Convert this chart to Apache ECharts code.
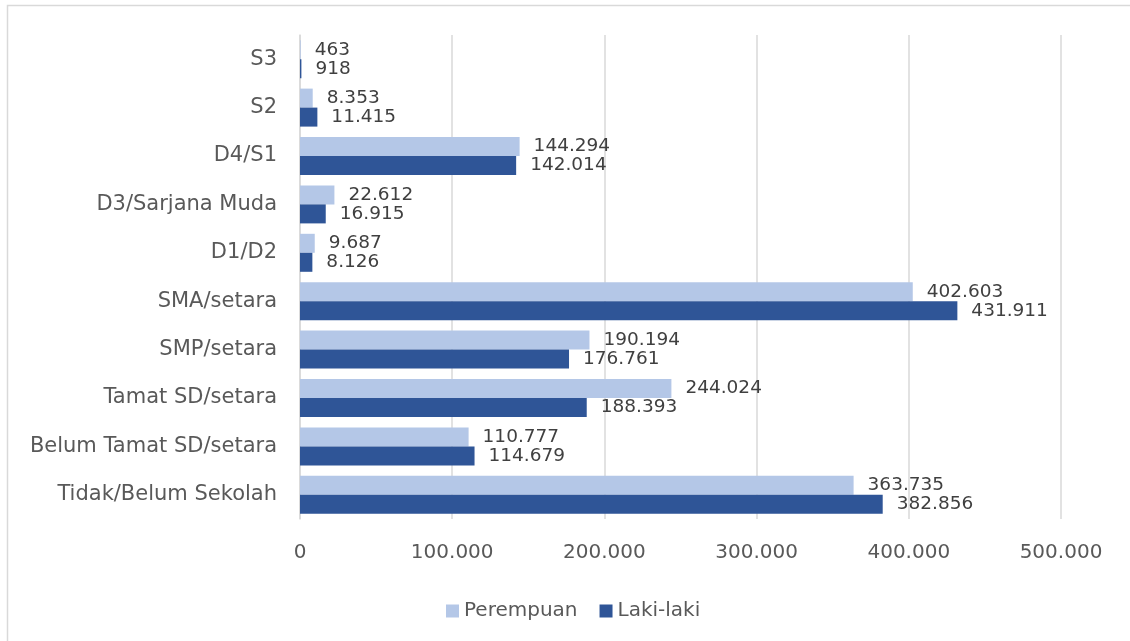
<!DOCTYPE html>
<html>
<head>
<meta charset="utf-8">
<script src="https://cdn.jsdelivr.net/npm/echarts@6/dist/echarts.min.js"></script>
<style>
  html, body { margin: 0; padding: 0; background: #fff; }
  #chart { width: 1130px; height: 641px; }
</style>
</head>
<body>
<div id="chart"></div>
<script>
// Education levels, bottom to top
const categories = [
  'Tidak/Belum Sekolah',
  'Belum Tamat SD/setara',
  'Tamat SD/setara',
  'SMP/setara',
  'SMA/setara',
  'D1/D2',
  'D3/Sarjana Muda',
  'D4/S1',
  'S2',
  'S3'
];

const perempuan = [363735, 110777, 244024, 190194, 402603, 9687, 22612, 144294, 8353, 463];
const lakiLaki  = [382856, 114679, 188393, 176761, 431911, 8126, 16915, 142014, 11415, 918];

const seriesNames = ['Perempuan', 'Laki-laki'];

// Thousands separated with dots
function fmt(v) {
  return String(Math.round(v)).replace(/\B(?=(\d{3})+(?!\d))/g, '.');
}

const FONT = 'DejaVu Sans';
const chart = echarts.init(document.getElementById('chart'));

const labelStyle = {
  show: true,
  position: 'right',
  distance: 14,
  fontFamily: FONT,
  fontSize: 18.5,
  color: '#404040',
  formatter: p => fmt(p.value)
};

chart.setOption({
  backgroundColor: '#ffffff',
  animation: false,
  graphic: [{
    type: 'rect',
    shape: { x: 7.5, y: 5.5, width: 1200, height: 700 },
    style: { fill: 'none', stroke: '#d9d9d9', lineWidth: 1.5 },
    silent: true
  }],
  grid: { left: 300, right: 69, top: 35, bottom: 122 },
  legend: {
    data: seriesNames,
    left: 441,
    top: 596,
    itemWidth: 13,
    itemHeight: 13,
    itemGap: 22,
    icon: 'rect',
    textStyle: { fontFamily: FONT, fontSize: 20, color: '#595959' }
  },
  xAxis: {
    type: 'value',
    min: 0,
    max: 500000,
    interval: 100000,
    axisLine: { show: false },
    axisTick: { show: false },
    splitLine: { lineStyle: { color: '#d9d9d9', width: 1.5 } },
    axisLabel: {
      margin: 24,
      fontFamily: FONT,
      fontSize: 20,
      color: '#595959',
      formatter: v => fmt(v)
    }
  },
  yAxis: {
    type: 'category',
    data: categories,
    axisTick: { show: false },
    axisLine: { lineStyle: { color: '#d9d9d9', width: 1.5 } },
    axisLabel: {
      margin: 23,
      fontFamily: FONT,
      fontSize: 21,
      color: '#595959'
    }
  },
  series: [
    {
      name: 'Perempuan',
      type: 'bar',
      data: perempuan,
      barWidth: 19,
      barGap: '0%',
      itemStyle: { color: '#b4c7e7' },
      label: labelStyle
    },
    {
      name: 'Laki-laki',
      type: 'bar',
      data: lakiLaki,
      barWidth: 19,
      barGap: '0%',
      itemStyle: { color: '#2f5597' },
      label: labelStyle
    }
  ]
});
</script>
</body>
</html>
